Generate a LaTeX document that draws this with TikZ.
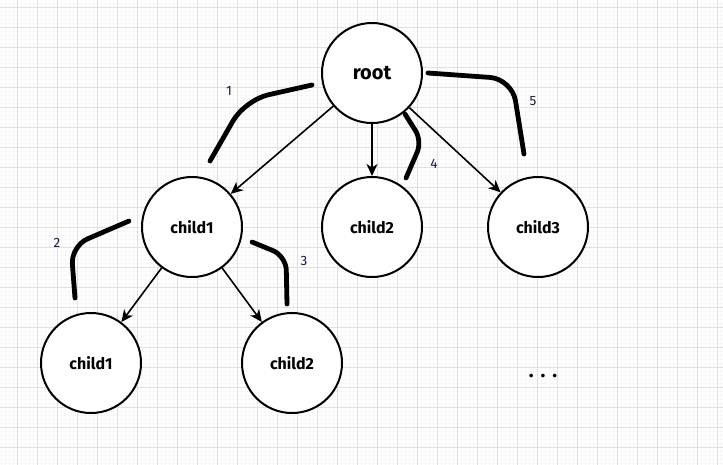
\documentclass[tikz,border=0pt]{standalone}
\usepackage{fontspec}
\setmainfont{Fira Sans}
\usetikzlibrary{arrows.meta}

\definecolor{gridmajor}{RGB}{224,224,224}
\definecolor{gridminor}{RGB}{247,247,247}
\definecolor{numcol}{RGB}{25,25,70}

\tikzset{
    treenode/.style = {circle, draw, fill = white, line width = 2pt,
        minimum size = 100pt, inner sep = 0pt, font = \fontsize{16}{18}\selectfont\bfseries},
    edge/.style = {line width = 1.6pt, -{Stealth[length = 12pt, width = 11pt, inset = 3.5pt]}},
    stroke/.style = {line width = 4.8pt, line cap = round, rounded corners = 18pt},
    num/.style = {text = numcol, font = \fontsize{13.5}{15}\selectfont}
}

\begin{document}
\begin{tikzpicture}[x = 1pt, y = -1pt]
    \useasboundingbox (0,0) rectangle (723,464);
    \fill [white] (0,0) rectangle (723,464);

    % background grid
    \begin{scope}[shift = {(17.3,7.3)}]
        \draw [gridminor, line width = 0.5pt, step = 4pt] (-20,-10) grid (710,460);
        \draw [gridmajor, line width = 1pt, step = 20pt] (-20,-10) grid (710,460);
    \end{scope}

    \node [treenode, font = \fontsize{20}{24}\selectfont\bfseries] (root) at (372,73) {root};
    \node [treenode] (c1) at (192,227) {child1};
    \node [treenode] (c2) at (372,227) {child2};
    \node [treenode] (c3) at (538,227) {child3};
    \node [treenode] (c11) at (91,363) {child1};
    \node [treenode] (c12) at (292,363) {child2};

    \node [font = \fontsize{20}{22}\selectfont\bfseries] (more) at (543,376) {.\hspace{7pt}.\hspace{7pt}.};

    \draw [edge] (root) -- (c1);
    \draw [edge] (root) -- (c2);
    \draw [edge] (root) -- (c3);
    \draw [edge] (c1) -- (c11);
    \draw [edge] (c1) -- (c12);

    % order of visits
    \draw [stroke, rounded corners = 24pt] (312,85) -- (245,100) -- (210,161);
    \draw [stroke] (129,221) -- (71,246) -- (75,298);
    \draw [stroke, rounded corners = 14pt] (252,242) -- (286,256) -- (287,304);
    \draw [stroke, rounded corners = 12pt] (405,114) -- (422,141) -- (406,178);
    \draw [stroke, rounded corners = 22pt] (428,73) -- (512,79) -- (524,154);

    \node [num] (n1) at (229,91) {1};
    \node [num] (n2) at (57,243) {2};
    \node [num] (n3) at (304,261) {3};
    \node [num] (n4) at (434,164) {4};
    \node [num] (n5) at (533,101) {5};
\end{tikzpicture}
\end{document}
